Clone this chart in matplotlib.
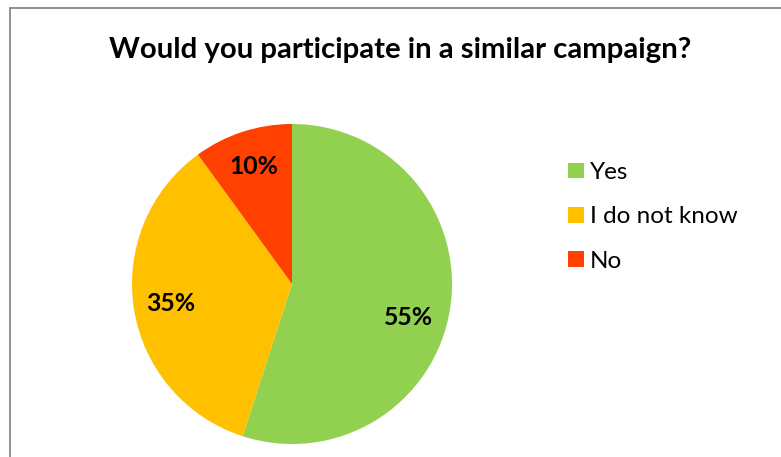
import numpy as np
import matplotlib
matplotlib.use("Agg")
import matplotlib.pyplot as plt
from matplotlib.patches import Rectangle

categories = ["Yes", "I do not know", "No"]
shares = [55, 35, 10]
colors = ["#92D050", "#FFC000", "#FF4000"]
title = "Would you participate in a similar campaign?"

plt.rcParams["font.family"] = ["Lato", "DejaVu Sans"]

W, H = 781, 457
fig = plt.figure(figsize=(W / 100, H / 100), dpi=100)

# chart frame (runs off the right and bottom edges)
fig.add_artist(Rectangle((9.5 / W, -0.1), 1.2, 1 - 8 / H + 0.1,
                         transform=fig.transFigure, fill=False,
                         edgecolor="#878787", linewidth=1.3))

fig.text(400 / W, 1 - 50 / H, title, ha="center", va="center",
         fontsize=21.2, fontweight="bold")

cx, cy, r = 292, 284, 160
ax = fig.add_axes([(cx - r) / W, (H - cy - r) / H, 2 * r / W, 2 * r / H])
wedges, texts, autotexts = ax.pie(
    shares, colors=colors, startangle=90, counterclock=False,
    autopct="%d%%", pctdistance=0.77,
    textprops=dict(fontsize=17.8, fontweight="bold", color="black"),
    wedgeprops=dict(linewidth=0))
ax.set_xlim(-1, 1)
ax.set_ylim(-1, 1)
ax.set_aspect("equal")

# nudge the largest label a little lower, as a best-fit placement
ang = np.deg2rad(-16)
autotexts[0].set_position((0.755 * np.cos(ang), 0.755 * np.sin(ang)))

# legend: square swatch + label per category
leg_x, leg_y0, leg_step, sw = 568, 170.5, 44.3, 15.5
for i, (name, col) in enumerate(zip(categories, colors)):
    yc = leg_y0 + i * leg_step
    fig.add_artist(Rectangle((leg_x / W, (H - yc - sw / 2) / H), sw / W, sw / H,
                             transform=fig.transFigure, facecolor=col,
                             edgecolor="none"))
    fig.text(590 / W, 1 - yc / H, name, ha="left", va="center_baseline",
             fontsize=17.5)

fig.savefig("out.png", dpi=100)
